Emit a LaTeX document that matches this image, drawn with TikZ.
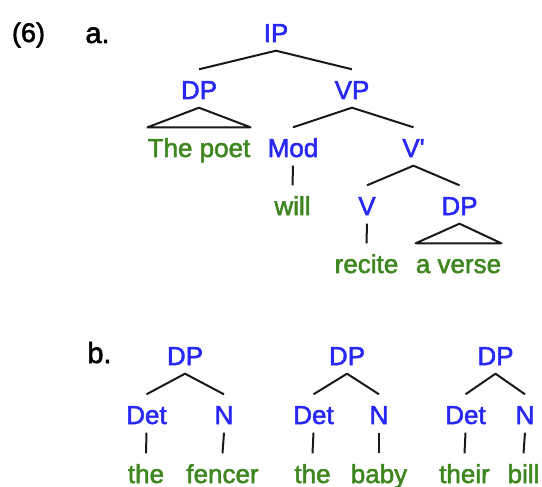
\documentclass[tikz,border=0pt]{standalone}
\usepackage{fontspec}
\setmainfont{Liberation Sans}
\newfontfamily\treefont{Liberation Sans}[FakeBold=2]
\definecolor{catblue}{RGB}{40,40,245}
\definecolor{wordgreen}{RGB}{62,135,32}
\tikzset{
  cat/.style={text=catblue, font=\treefont\fontsize{26}{30}\selectfont, anchor=base,
    inner xsep=0pt, inner ysep=8.5pt, text height=21pt, text depth=0pt},
  word/.style={cat, text=wordgreen},
  exlabel/.style={font=\treefont\fontsize{27}{32}\selectfont, anchor=base, inner sep=0pt},
  sublabel/.style={font=\treefont\fontsize{29}{34}\selectfont, anchor=base, inner sep=0pt},
  branch/.style={line width=2pt, black!90, line join=round},
}
\begin{document}
\begin{tikzpicture}[x=1pt, y=-1pt]
\useasboundingbox (0,0) rectangle (542,487);

% example number and sub-labels
\node[exlabel]  (ex) at (28.5,42) {(6)};
\node[sublabel] (la) at (97.5,43) {a.};
\node[sublabel] (lb) at (99.5,363) {b.};

% tree (a)
\node[cat]  (IP)     at (276,42)    {IP};
\node[cat]  (DPs)    at (199,99)    {DP};
\node[cat]  (VP)     at (352,99)    {VP};
\node[word] (poet)   at (199,157)   {The poet};
\node[cat]  (Mod)    at (293,157)   {Mod};
\node[cat]  (Vbar)   at (413.5,157) {V\textquotesingle};
\node[word] (will)   at (292.5,215) {will};
\node[cat]  (V)      at (367,215)   {V};
\node[cat]  (DPo)    at (459.5,215) {DP};
\node[word] (recite) at (366.5,273) {recite};
\node[word] (verse)  at (458.5,273) {a verse};

\draw[branch] (DPs.north) -- (IP.south) -- (VP.north);
\draw[branch] (poet.north west) -- (DPs.south) -- (poet.north east) -- cycle;
\draw[branch] (Mod.north) -- (VP.south) -- (Vbar.north);
\draw[branch] (Mod.south) -- (will.north);
\draw[branch] (V.north) -- (Vbar.south) -- (DPo.north);
\draw[branch] (V.south) -- (recite.north);
\draw[branch] (verse.north west) -- (DPo.south) -- (verse.north east) -- cycle;

% trees (b)
\node[cat]  (DPa)    at (185,365)   {DP};
\node[cat]  (Deta)   at (146.5,424) {Det};
\node[cat]  (Na)     at (224,424)   {N};
\node[word] (thea)   at (146,483)   {the};
\node[word] (fencer) at (222.5,483) {fencer};

\node[cat]  (DPb)    at (347,365)   {DP};
\node[cat]  (Detb)   at (313.5,424) {Det};
\node[cat]  (Nb)     at (379,424)   {N};
\node[word] (theb)   at (312.5,483) {the};
\node[word] (baby)   at (379,483)   {baby};

\node[cat]  (DPc)    at (495.5,365) {DP};
\node[cat]  (Detc)   at (465.5,424) {Det};
\node[cat]  (Nc)     at (525,424)   {N};
\node[word] (their)  at (464.5,483) {their};
\node[word] (bill)   at (523.5,483) {bill};

\foreach \d/\t/\n/\w/\m in {DPa/Deta/Na/thea/fencer, DPb/Detb/Nb/theb/baby, DPc/Detc/Nc/their/bill}{
  \draw[branch] (\t.north) -- (\d.south) -- (\n.north);
  \draw[branch] (\t.south) -- (\w.north);
  \draw[branch] (\n.south) -- (\m.north);
}
\end{tikzpicture}
\end{document}
